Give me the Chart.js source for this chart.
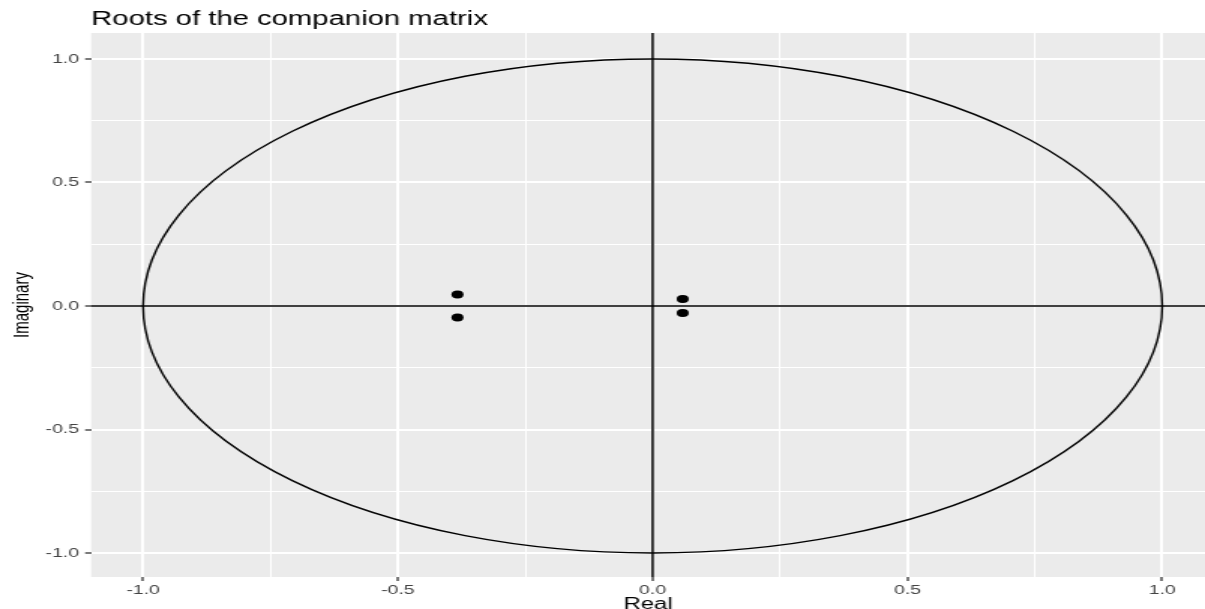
<!DOCTYPE html>
<html>
<head>
<meta charset="utf-8">
<script src="https://cdn.jsdelivr.net/npm/chart.js@4.4.1/dist/chart.umd.min.js"></script>
<style>
  html, body { margin: 0; padding: 0; background: #ffffff; overflow: hidden; }
</style>
</head>
<body>
<!-- the reference picture is stretched sideways, so the canvas is too -->
<canvas id="rootsChart" width="803" height="609" style="display:block;width:1205px;height:609px;"></canvas>
<script>
// roots of the companion matrix
const rootsReal = [-0.383, -0.383, 0.059, 0.059];
const rootsImag = [0.047, -0.047, 0.028, -0.028];

// axis ticks
const majorTicks = [-1.0, -0.5, 0.0, 0.5, 1.0];
const minorTicks = [-0.75, -0.25, 0.25, 0.75];
const gridTicks = majorTicks.concat(minorTicks).sort((a, b) => a - b);

// unit circle radius
const unitRadius = 1;

const isMajor = v => majorTicks.some(m => Math.abs(m - v) < 1e-9);

document.addEventListener('DOMContentLoaded', function() {
    const canvas = document.getElementById('rootsChart');
    const ctx = canvas.getContext('2d');

    // grey ggplot panel
    const panelBg = {
        id: 'panelBg',
        beforeDraw(chart) {
            const a = chart.chartArea;
            const c = chart.ctx;
            c.save();
            c.fillStyle = '#ebebeb';
            c.fillRect(a.left, a.top, a.right - a.left, a.bottom - a.top);
            c.restore();
        }
    };

    // unit circle and the two axis lines through 0
    const circleAndAxes = {
        id: 'circleAndAxes',
        beforeDatasetsDraw(chart) {
            const xs = chart.scales.x;
            const ys = chart.scales.y;
            const a = chart.chartArea;
            const c = chart.ctx;
            const cx = xs.getPixelForValue(0);
            const cy = ys.getPixelForValue(0);
            const rx = xs.getPixelForValue(unitRadius) - cx;
            const ry = cy - ys.getPixelForValue(unitRadius);
            c.save();
            c.beginPath();
            c.rect(a.left, a.top, a.right - a.left, a.bottom - a.top);
            c.clip();
            c.strokeStyle = '#000000';
            c.lineWidth = 1.4;
            c.beginPath();
            c.ellipse(cx, cy, rx, ry, 0, 0, Math.PI * 2);
            c.stroke();
            c.lineWidth = 1.5;
            c.beginPath();
            c.moveTo(a.left, cy);
            c.lineTo(a.right, cy);
            c.stroke();
            c.beginPath();
            c.moveTo(cx, a.top);
            c.lineTo(cx, a.bottom);
            c.stroke();
            c.restore();
        }
    };

    const gridOpts = {
        color: '#ffffff',
        lineWidth: c => (c.tick && isMajor(c.tick.value)) ? 2 : 1,
        tickColor: c => (c.tick && isMajor(c.tick.value)) ? '#333333' : 'rgba(0,0,0,0)',
        tickWidth: 1.3,
        tickLength: 4,
        drawTicks: true
    };

    window.rootsChart = new Chart(ctx, {
        type: 'scatter',
        data: {
            datasets: [{
                label: 'roots',
                data: rootsReal.map((re, i) => ({ x: re, y: rootsImag[i] })),
                backgroundColor: '#000000',
                borderWidth: 0,
                pointRadius: 4,
                pointHoverRadius: 4
            }]
        },
        options: {
            responsive: false,
            animation: false,
            layout: { padding: 0, autoPadding: false },
            plugins: {
                legend: { display: false },
                tooltip: { enabled: false },
                title: {
                    display: true,
                    text: 'Roots of the companion matrix',
                    align: 'start',
                    fullSize: false,
                    color: '#000000',
                    font: { family: 'Liberation Sans', size: 19.5, weight: 'normal' },
                    padding: { top: 8.3, bottom: 1.3 }
                }
            },
            scales: {
                x: {
                    type: 'linear',
                    min: -1.102,
                    max: 1.084,
                    afterBuildTicks: s => { s.ticks = gridTicks.map(v => ({ value: v })); },
                    afterFit: s => { s.height = 32; },
                    grid: gridOpts,
                    border: { display: false },
                    ticks: {
                        autoSkip: false,
                        maxRotation: 0,
                        padding: 2,
                        color: '#444444',
                        font: { family: 'Liberation Sans', size: 13 },
                        callback: v => isMajor(v) ? v.toFixed(1) : ''
                    },
                    title: {
                        display: true,
                        text: 'Real',
                        color: '#000000',
                        font: { family: 'Liberation Sans', size: 16, lineHeight: 1 },
                        padding: { top: 0, bottom: -4 }
                    }
                },
                y: {
                    type: 'linear',
                    min: -1.097,
                    max: 1.105,
                    afterBuildTicks: s => { s.ticks = gridTicks.map(v => ({ value: v })); },
                    afterFit: s => { s.width = 60.7; },
                    grid: gridOpts,
                    border: { display: false },
                    ticks: {
                        autoSkip: false,
                        padding: 4,
                        color: '#444444',
                        font: { family: 'Liberation Sans', size: 13 },
                        callback: v => isMajor(v) ? v.toFixed(1) : ''
                    },
                    title: {
                        display: true,
                        text: 'Imaginary',
                        color: '#000000',
                        font: { family: 'Liberation Sans', size: 15 },
                        padding: { top: 6, bottom: 0 }
                    }
                }
            }
        },
        plugins: [panelBg, circleAndAxes]
    });
});
</script>
</body>
</html>
